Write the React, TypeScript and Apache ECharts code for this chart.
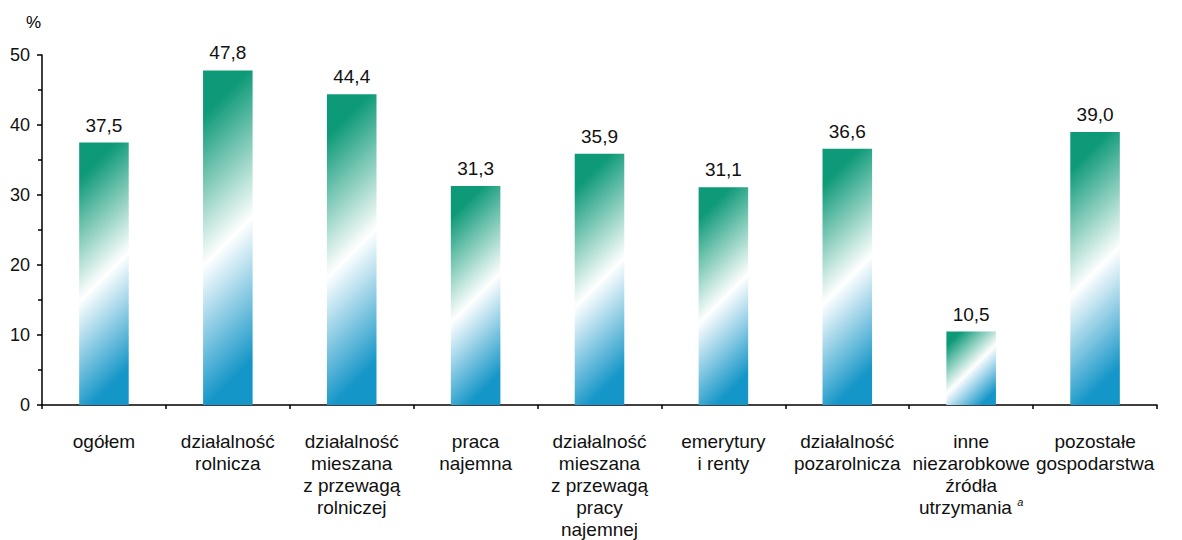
import React, { useEffect, useRef } from "react";
import * as echarts from "echarts";

const categories: string[] = [
  "ogółem",
  "działalność\nrolnicza",
  "działalność\nmieszana\nz przewagą\nrolniczej",
  "praca\nnajemna",
  "działalność\nmieszana\nz przewagą\npracy\nnajemnej",
  "emerytury\ni renty",
  "działalność\npozarolnicza",
  "inne\nniezarobkowe\nźródła\nutrzymania {sup|a}",
  "pozostałe\ngospodarstwa",
];
const values: number[] = [37.5, 47.8, 44.4, 31.3, 35.9, 31.1, 36.6, 10.5, 39.0];
const yTicks: number[] = [0, 10, 20, 30, 40, 50];

const GREEN = "#0e9a78";
const BLUE = "#1596c8";
const FONT = "'Liberation Sans', Arial, Helvetica, sans-serif";

export default function App() {
  const ref = useRef<HTMLDivElement>(null);
  useEffect(() => {
    if (!ref.current) return;
    const chart = echarts.init(ref.current, null, { renderer: "svg" });
    const fmt = (v: number) => v.toFixed(1).replace(".", ",");
    chart.setOption({
      animation: false,
      backgroundColor: "#ffffff",
      grid: { left: 42, right: 25, top: 55, bottom: 132, containLabel: false },
      graphic: [
        {
          type: "text",
          left: 26,
          top: 14,
          style: { text: "%", font: `17px ${FONT}`, fill: "#000" },
        },
      ],
      xAxis: {
        type: "category",
        data: categories,
        axisLine: { show: true, lineStyle: { color: "#000", width: 1.5 } },
        axisTick: { show: true, length: 4, lineStyle: { color: "#000", width: 1.5 } },
        axisLabel: {
          interval: 0,
          margin: 25,
          color: "#111",
          fontFamily: FONT,
          fontSize: 19,
          lineHeight: 22,
          align: "center",
          rich: {
            sup: {
              fontSize: 11,
              fontStyle: "italic",
              fontFamily: FONT,
              verticalAlign: "top",
              lineHeight: 22,
              padding: [0, 0, 8, 0],
              color: "#111",
            },
          },
        },
        splitLine: { show: false },
      },
      yAxis: {
        type: "value",
        min: yTicks[0],
        max: yTicks[yTicks.length - 1],
        interval: 10,
        axisLine: { show: true, lineStyle: { color: "#000", width: 1.5 } },
        axisTick: { show: true, length: 5, lineStyle: { color: "#000", width: 1.5 } },
        minorTick: { show: true, splitNumber: 2, length: 4, lineStyle: { color: "#000", width: 1.5 } },
        axisLabel: { margin: 12, color: "#111", fontFamily: FONT, fontSize: 18 },
        splitLine: { show: false },
      },
      series: [
        {
          type: "custom",
          data: values.map((v, i) => [i, v]),
          encode: { x: 0, y: 1 },
          renderItem: (params: any, api: any) => {
            const idx = api.value(0);
            const v = api.value(1);
            const top = api.coord([idx, v]);
            const base = api.coord([idx, 0]);
            const bw = api.size([1, 0])[0] * 0.4;
            const x = top[0] - bw / 2;
            const y = top[1];
            const h = base[1] - top[1];
            const cx = x + bw / 2;
            const cy = y + h / 2;
            const s = (bw / 2 + h / 2) / 2;
            const grad = new echarts.graphic.LinearGradient(
              cx - s,
              cy - s,
              cx + s,
              cy + s,
              [
                { offset: 0, color: GREEN },
                { offset: 0.12, color: GREEN },
                { offset: 0.51, color: "#ffffff" },
                { offset: 0.88, color: BLUE },
                { offset: 1, color: BLUE },
              ],
              true
            );
            return {
              type: "rect",
              shape: { x, y, width: bw, height: h },
              style: { fill: grad },
              textContent: {
                style: {
                  text: fmt(v),
                  font: `19px ${FONT}`,
                  fill: "#111",
                },
              },
              textConfig: { position: "top", distance: 8 },
            };
          },
        },
      ],
    });
    return () => chart.dispose();
  }, []);
  return (
    <div
      ref={ref}
      style={{ position: "absolute", left: 0, top: 0, width: 1182, height: 540 }}
    />
  );
}
